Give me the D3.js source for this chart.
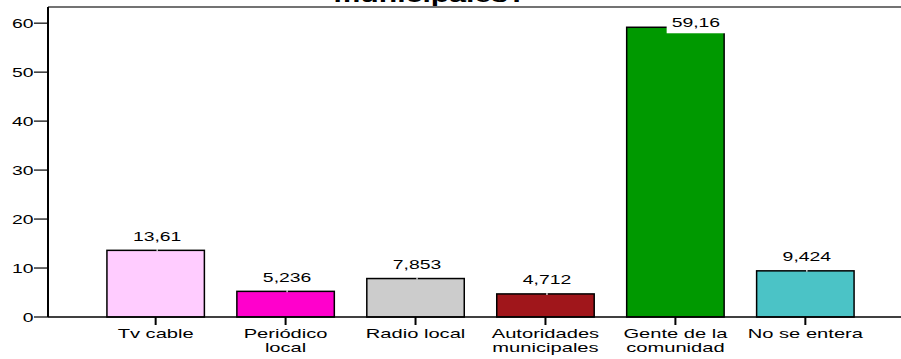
<!DOCTYPE html>
<html><head><meta charset="utf-8">
<script src="https://cdn.jsdelivr.net/npm/d3@7"></script>
<style>body{margin:0;background:#fff;overflow:hidden}text{font-family:"Liberation Sans",Arial,sans-serif;fill:#000}</style>
</head><body><svg id="c" width="901" height="359"></svg>
<script>
const categories = ["Tv cable","Periódico\nlocal","Radio local","Autoridades\nmunicipales","Gente de la\ncomunidad","No se entera"];
const values = [13.61, 5.236, 7.853, 4.712, 59.16, 9.424];
const valueLabels = ["13,61","5,236","7,853","4,712","59,16","9,424"];
const colors = ["#FFCCFF","#FF00CC","#CCCCCC","#A0161B","#009900","#4BC3C6"];
const yTicks = [0,10,20,30,40,50,60];
const titleText = "municipales?";

(function () {
const svg = d3.select("#c");
const SX = 1.55;
const leftX = 48, topY = 7, bottomY = 317;
const x = d3.scaleBand().domain(categories).range([leftX, 913]).paddingInner(0.25).paddingOuter(0.4535);
const y = d3.scaleLinear().domain([0, 63.3]).range([bottomY, topY]);

function stext(g, tx, ty, str, anchor, size, weight) {
  return g.append("text")
    .attr("transform", `translate(${tx},${ty}) scale(${SX},1)`)
    .attr("text-anchor", anchor)
    .style("font-size", size + "px")
    .style("font-weight", weight || "normal")
    .text(str);
}

// title (clipped at top)
stext(svg, 430, 2, titleText, "middle", 19.5, "bold");

// frame top
svg.append("line").attr("x1", leftX).attr("x2", 901).attr("y1", topY).attr("y2", topY)
  .attr("stroke", "#444").attr("stroke-width", 1.5);

// bars
svg.selectAll("rect.bar").data(values).enter().append("rect")
  .attr("class", "bar")
  .attr("x", (d, i) => x(categories[i]))
  .attr("width", x.bandwidth())
  .attr("y", d => y(d))
  .attr("height", d => y(0) - y(d))
  .attr("fill", (d, i) => colors[i])
  .attr("stroke", "#000").attr("stroke-width", 1.5);

// y axis
const yAxis = svg.append("g");
yAxis.append("line").attr("x1", leftX).attr("x2", leftX).attr("y1", topY).attr("y2", bottomY)
  .attr("stroke", "#000").attr("stroke-width", 2);
yTicks.forEach(t => {
  yAxis.append("line").attr("x1", leftX - 14).attr("x2", leftX).attr("y1", y(t)).attr("y2", y(t))
    .attr("stroke", "#000").attr("stroke-width", 1.2);
  stext(yAxis, leftX - 14.5, y(t) + 5, String(t), "end", 12.5);
});

// x axis
svg.append("line").attr("x1", leftX).attr("x2", 901).attr("y1", bottomY).attr("y2", bottomY)
  .attr("stroke", "#000").attr("stroke-width", 1.5);
categories.forEach((c, i) => {
  const cx = x(c) + x.bandwidth() / 2;
  svg.append("line").attr("x1", cx).attr("x2", cx).attr("y1", bottomY).attr("y2", bottomY + 8)
    .attr("stroke", "#000").attr("stroke-width", 2);
  c.split("\n").forEach((ln, j) => {
    stext(svg, cx, 337.5 + j * 14, ln, "middle", 13);
  });
});

// value labels
values.forEach((v, i) => {
  const c = categories[i];
  const cx = x(c) + x.bandwidth() / 2;
  const g = svg.append("g");
  let by = y(v) - 9.5;
  let tx = cx + 1.5;
  const t = stext(g, 0, 0, valueLabels[i], "middle", 12.5);
  const w = t.node().getComputedTextLength() * SX;
  if (by - 10 < topY + 2) {
    by = y(v);
    tx = x(c) + x.bandwidth() + 1 - (w + 10) / 2;
    g.insert("rect", "text").attr("x", tx - (w + 10) / 2).attr("y", by - 15)
      .attr("width", w + 10).attr("height", 21).attr("fill", "#fff");
  } else {
    g.append("line").attr("x1", tx).attr("x2", tx).attr("y1", y(v) - 1).attr("y2", y(v) + 1)
      .attr("stroke", "#fff").attr("stroke-width", 1.2);
  }
  t.attr("transform", `translate(${tx},${by}) scale(${SX},1)`);
});
})();
</script></body></html>
